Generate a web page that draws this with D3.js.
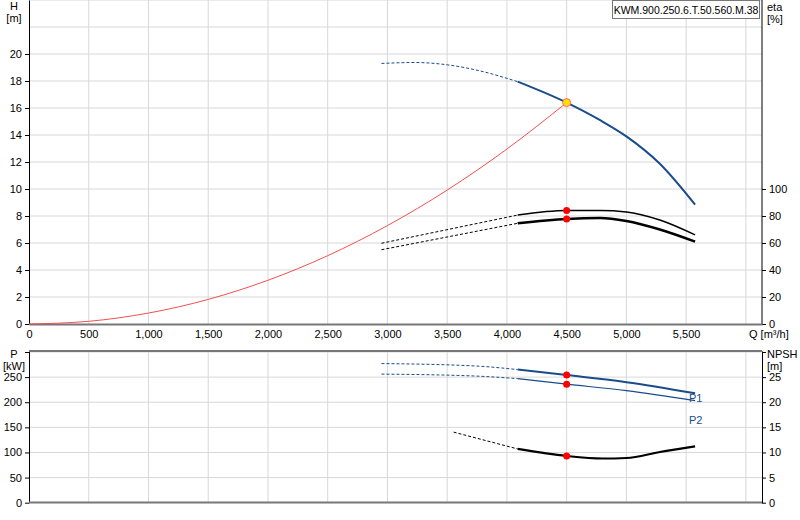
<!DOCTYPE html><html><head><meta charset="utf-8">
<script src="https://cdn.jsdelivr.net/npm/d3@7"></script>
<style>body{margin:0;background:#fff}text{font-family:Arial,"Liberation Sans",sans-serif;font-size:11px}</style></head><body>
<svg id="c" width="800" height="520"></svg>
<script>
const title="KWM.900.250.6.T.50.560.M.38";
const qTicks=[0,500,1000,1500,2000,2500,3000,3500,4000,4500,5000,5500];
const hTicks=[0,2,4,6,8,10,12,14,16,18,20];
const etaTicks=[0,20,40,60,80,100];
const pTicks=[0,50,100,150,200,250];
const npshTicks=[0,5,10,15,20,25];
const Qdash=[2950,3230,3500,3750,4090];
const Hdash=[19.3,19.37,19.2,18.8,17.95];
const Qh=[4090,4500,4780,5000,5280,5575];
const Hh=[17.95,16.4,15.1,13.9,11.87,8.84];
const Qsys=[0,500,1000,1500,2000,2500,3000,3500,4000,4500];
const Hsys=[0,0.2,0.81,1.82,3.24,5.06,7.29,9.92,12.96,16.4];
const Qe=[2950,4090,4500,4780,5000,5280,5575];
const eta1=[59.8,80.7,84,84,83,77,66];
const eta2=[55,74.6,77.8,78.5,76.3,70,61];
const Qp=[2950,3750,4090,4500,5000,5575];
const P1=[277,272,265,254,240,218];
const P2=[256,252,247,236,223,203];
const Qn=[3554,4090,4500,4800,5000,5280,5575];
const npsh=[14.05,10.7,9.3,8.8,8.9,10.1,11.2];
const opQ=4500, opH=16.4;

const svg=d3.select("#c");
const L=29,R=762;
const x=d3.scaleLinear().domain([0,6135]).range([L,R]);
const yH=d3.scaleLinear().domain([0,24]).range([324,0]);
const yE=d3.scaleLinear().domain([0,240]).range([324,0]);
const yP=d3.scaleLinear().domain([0,302]).range([502.7,351]);
const yN=d3.scaleLinear().domain([0,30.2]).range([502.7,351]);
const grid="#d8d8d8";
[0,1].forEach(k=>{
  const g=svg.append("g");
  const y0=k?351:0,y1=k?502:324;
  d3.range(500,6001,500).forEach(q=>g.append("line").attr("x1",x(q)).attr("x2",x(q)).attr("y1",y0).attr("y2",y1).attr("stroke",grid));
  const ys=k?d3.range(50,301,50).map(yP):d3.range(2,25,2).map(yH);
  ys.forEach(y=>g.append("line").attr("x1",L).attr("x2",R).attr("y1",y).attr("y2",y).attr("stroke",grid));
});
svg.append("g").attr("transform",`translate(${L},0)`).call(d3.axisLeft(yH).tickValues(hTicks).tickSize(4).tickSizeOuter(0));
svg.append("g").attr("transform",`translate(${R},0)`).call(d3.axisRight(yE).tickValues(etaTicks).tickSize(4).tickSizeOuter(0))
 .call(g=>g.select(".domain").attr("d","M0,0V324"));
svg.append("g").attr("transform",`translate(0,324)`).call(d3.axisBottom(x).tickValues(qTicks).tickSize(0).tickPadding(6).tickFormat(d3.format(",")))
 .call(g=>g.select(".domain").attr("stroke","#777").attr("stroke-width",2));
svg.append("g").attr("transform",`translate(${L},0)`).call(d3.axisLeft(yP).tickValues(pTicks.concat([300])).tickFormat(d=>d==300?"":d).tickSize(4).tickSizeOuter(0));
svg.append("g").attr("transform",`translate(${R},0)`).call(d3.axisRight(yN).tickValues(npshTicks.concat([30])).tickFormat(d=>d==30?"":d).tickSize(4).tickSizeOuter(0));
svg.append("line").attr("x1",L).attr("x2",R).attr("y1",502.5).attr("y2",502.5).attr("stroke","#777").attr("stroke-width",2);
svg.append("line").attr("x1",L).attr("x2",R).attr("y1",351).attr("y2",351).attr("stroke","#777").attr("stroke-width",2);
svg.selectAll(".tick text").attr("fill","#000").style("font-size","11px");
const t=(s,xx,yy,a)=>svg.append("text").attr("x",xx).attr("y",yy).attr("text-anchor",a||"start").text(s);
t("H",14,10,"middle");t("[m]",14,22,"middle");
t("eta",767,11);t("[%]",767,23);
t("P",14,358,"middle");t("[kW]",14,370,"middle");
t("NPSH",767,358);t("[m]",767,370);
t("Q [m³/h]",749,338);
svg.append("rect").attr("x",612.5).attr("y",0.5).attr("width",147).attr("height",18).attr("fill","#fff").attr("stroke","#777");
t(title,686,14,"middle").style("font-size","10.5px");
const ln=(xs,ys,sy,col,w,dash)=>svg.append("path").datum(xs.map((q,i)=>[q,ys[i]]))
 .attr("d",d3.line().x(d=>x(d[0])).y(d=>sy(d[1])).curve(d3.curveMonotoneX))
 .attr("fill","none").attr("stroke",col).attr("stroke-width",w).attr("stroke-dasharray",dash||null);
const split=(xs,ys,sy,col,w)=>{const i=xs.indexOf(4090);
 ln(xs.slice(0,i+1),ys.slice(0,i+1),sy,col,1,"3,2");ln(xs.slice(i),ys.slice(i),sy,col,w);};
ln(Qsys,Hsys,yH,"#f05050",1);
ln(Qdash,Hdash,yH,"#1a4c8a",1,"3,2");ln(Qh,Hh,yH,"#1a4c8a",2);
split(Qe,eta1,yE,"#000",1.5);split(Qe,eta2,yE,"#000",2.5);
split(Qp,P1,yP,"#1a4c8a",2);split(Qp,P2,yP,"#1a4c8a",1.2);
split(Qn,npsh,yN,"#000",2.2);
t("P1",689,402).attr("fill","#1a4c8a");t("P2",689,424).attr("fill","#1a4c8a");
const dot=(q,v,sy,f,r)=>svg.append("circle").attr("cx",x(q)).attr("cy",sy(v)).attr("r",r||3.5).attr("fill",f).attr("stroke",f=="red"?null:"#f66");
dot(opQ,eta1[2],yE,"red");dot(opQ,eta2[2],yE,"red");
dot(opQ,P1[3],yP,"red");dot(opQ,P2[3],yP,"red");dot(opQ,npsh[2],yN,"red");
dot(opQ,opH,yH,"#ffe000",4);
</script></body></html>
